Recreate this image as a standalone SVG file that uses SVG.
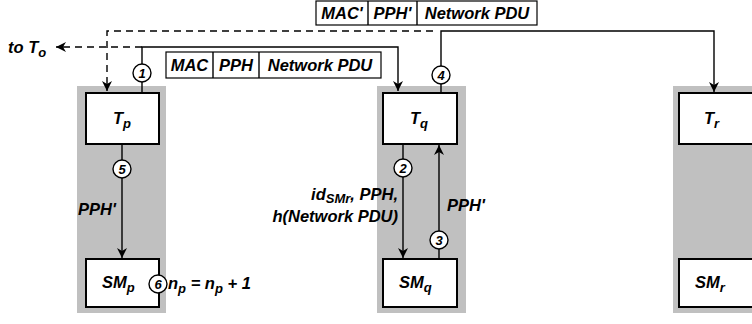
<svg xmlns="http://www.w3.org/2000/svg" width="752" height="324" viewBox="0 0 752 324">
<style>
text{font-family:"Liberation Sans",Arial,sans-serif;font-weight:bold;font-style:italic;font-size:16.5px;fill:#000}
.col{fill:#c0c0c0}
.box{fill:#fff;stroke:#000;stroke-width:2}
.ln{fill:none;stroke:#000;stroke-width:1.4}
.dash{fill:none;stroke:#000;stroke-width:1.4;stroke-dasharray:7 5}
.circ{fill:#fff;stroke:#000;stroke-width:1.4}
.num{font-size:13px;text-anchor:middle}
.lbl{text-anchor:middle}
.sub{font-size:13px}
.pkt{fill:#fff;stroke:#000;stroke-width:1.2}
</style>
<defs>
<marker id="ah" markerUnits="userSpaceOnUse" markerWidth="12" markerHeight="12" refX="10" refY="5" orient="auto">
<path d="M0,0 L10,5 L0,10 L3,5 z" fill="#000"/>
</marker>
</defs>
<g id="columns">
<rect class="col" x="77" y="86" width="89" height="227"/>
<rect class="col" x="377" y="86" width="89" height="227"/>
<rect class="col" x="673" y="86" width="90" height="227"/>
</g>
<g id="packet-top">
<rect class="pkt" x="316" y="1" width="221" height="24"/>
<line class="ln" x1="368" y1="1" x2="368" y2="25"/>
<line class="ln" x1="417" y1="1" x2="417" y2="25"/>
<text x="342" y="19" class="lbl">MAC'</text>
<text x="392.5" y="19" class="lbl">PPH'</text>
<text x="477" y="19" class="lbl">Network PDU</text>
</g>
<g id="packet-mid">
<rect class="pkt" x="166" y="52" width="215" height="26"/>
<line class="ln" x1="213" y1="52" x2="213" y2="78"/>
<line class="ln" x1="259" y1="52" x2="259" y2="78"/>
<text x="189.5" y="71" class="lbl">MAC</text>
<text x="236" y="71" class="lbl">PPH</text>
<text x="320" y="71" class="lbl">Network PDU</text>
</g>
<g id="connectors">
<polyline class="dash" points="433,31 107,31 107,91" marker-end="url(#ah)"/>
<polyline class="ln" points="441,93 441,31 714,31 714,92" marker-end="url(#ah)"/>
<polyline class="ln" points="142,93 142,47 398,47 398,91" marker-end="url(#ah)"/>
<line class="dash" x1="142" y1="47" x2="56" y2="47" marker-end="url(#ah)"/>
<line class="ln" x1="122" y1="144" x2="122" y2="258" marker-end="url(#ah)"/>
<line class="ln" x1="403" y1="144" x2="403" y2="258" marker-end="url(#ah)"/>
<line class="ln" x1="439" y1="259" x2="439" y2="145" marker-end="url(#ah)"/>
</g>
<g id="to-To">
<text x="8" y="53">to T<tspan class="sub" dy="4">o</tspan></text>
</g>
<g id="Tp">
<rect class="box" x="86" y="93" width="73" height="51"/>
<text x="113" y="124">T<tspan class="sub" dy="4">p</tspan></text>
</g>
<g id="SMp">
<rect class="box" x="86" y="259" width="73" height="48"/>
<text x="102" y="288">SM<tspan class="sub" dy="4">p</tspan></text>
</g>
<g id="Tq">
<rect class="box" x="383" y="93" width="74" height="51"/>
<text x="410" y="124">T<tspan class="sub" dy="4">q</tspan></text>
</g>
<g id="SMq">
<rect class="box" x="383" y="259" width="74" height="48"/>
<text x="399" y="288">SM<tspan class="sub" dy="4">q</tspan></text>
</g>
<g id="Tr">
<rect class="box" x="679" y="93" width="80" height="51"/>
<text x="704" y="124">T<tspan class="sub" dy="4">r</tspan></text>
</g>
<g id="SMr">
<rect class="box" x="679" y="259" width="80" height="48"/>
<text x="695" y="288">SM<tspan class="sub" dy="4">r</tspan></text>
</g>
<g id="steps">
<circle class="circ" cx="142" cy="73" r="9"/><text class="num" x="142" y="77.5">1</text>
<circle class="circ" cx="441" cy="75" r="9"/><text class="num" x="441" y="79.5">4</text>
<circle class="circ" cx="122" cy="169" r="9"/><text class="num" x="122" y="173.5">5</text>
<circle class="circ" cx="403" cy="168" r="9"/><text class="num" x="403" y="172.5">2</text>
<circle class="circ" cx="439" cy="240" r="9"/><text class="num" x="439" y="244.5">3</text>
<circle class="circ" cx="158" cy="284" r="9"/><text class="num" x="158" y="288.5">6</text>
</g>
<g id="labels">
<text x="78" y="215">PPH'</text>
<text x="447" y="211">PPH'</text>
<text x="398" y="200" text-anchor="end">id<tspan class="sub" dy="3">SMr</tspan><tspan dy="-3">, PPH,</tspan></text>
<text x="398" y="222" text-anchor="end">h(Network PDU)</text>
<text x="168" y="289">n<tspan class="sub" dy="4">p</tspan><tspan dy="-4"> = n</tspan><tspan class="sub" dy="4">p</tspan><tspan dy="-4"> + 1</tspan></text>
</g>
</svg>
